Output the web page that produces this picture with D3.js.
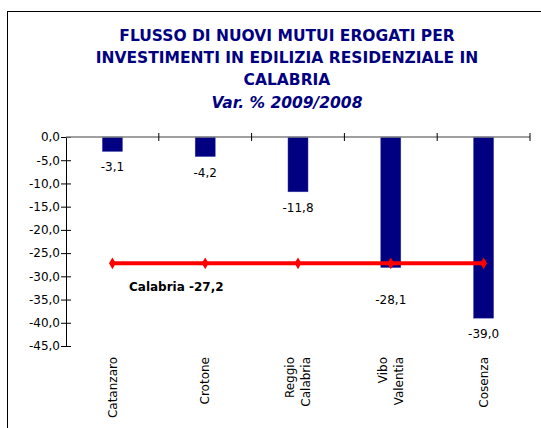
<!DOCTYPE html>
<html>
<head>
<meta charset="utf-8">
<script src="https://cdn.jsdelivr.net/npm/d3@7"></script>
<style>
  body { margin: 0; background: #fff; }
  svg { display: block; font-family: "DejaVu Sans", Verdana, sans-serif; }
</style>
</head>
<body>
<svg></svg>
<script>
// chart data
var provinces = ["Catanzaro", "Crotone", "Reggio Calabria", "Vibo Valentia", "Cosenza"];
var provinceLines = [["Catanzaro"], ["Crotone"], ["Reggio", "Calabria"], ["Vibo", "Valentia"], ["Cosenza"]];
var variation = [-3.1, -4.2, -11.8, -28.1, -39.0];
var regionAvg = -27.2;
var yTicks = [0, -5, -10, -15, -20, -25, -30, -35, -40, -45];
var titleLines = ["FLUSSO DI NUOVI MUTUI EROGATI PER", "INVESTIMENTI IN EDILIZIA RESIDENZIALE IN", "CALABRIA"];
var subtitle = "Var. % 2009/2008";

var width = 541;
var height = 428;
var plotLeft = 66, plotRight = 530, plotTop = 137, plotBottom = 346;
var navy = "#000080";

// italian style numbers: comma decimal, plain hyphen minus
var fmt = d3.formatLocale({decimal: ",", thousands: ".", grouping: [3], currency: ["", "€"], minus: "-"}).format(".1f");

var svg = d3.select("svg")
	.attr("width", width)
	.attr("height", height);

// outer frame
svg.append("rect")
	.attr("x", 7.5)
	.attr("y", 11.5)
	.attr("width", 560)
	.attr("height", 460)
	.attr("fill", "none")
	.attr("stroke", "#000")
	.attr("stroke-width", 1);

var Xscale = d3.scaleBand()
				.domain(provinces)
				.range([plotLeft, plotRight]);

var Yscale = d3.scaleLinear()
				.domain([-45, 0])
				.range([plotBottom, plotTop]);

// title
var title = svg.append("g").attr("fill", navy).attr("text-anchor", "middle");
titleLines.forEach(function(t, i) {
	title.append("text")
		.attr("x", 287)
		.attr("y", 41 + i * 22)
		.attr("font-size", "15.5px")
		.attr("font-weight", "bold")
		.text(t);
});
title.append("text")
	.attr("x", 287)
	.attr("y", 108)
	.attr("font-size", "15.5px")
	.attr("font-weight", "bold")
	.attr("font-style", "italic")
	.text(subtitle);

// bars
svg.selectAll("rect.bar")
	.data(variation)
	.enter()
	.append("rect")
		.attr("class", "bar")
		.attr("x", (d, i) => Xscale(provinces[i]) + Xscale.bandwidth() / 2 - 10)
		.attr("y", Yscale(0))
		.attr("width", 20)
		.attr("height", d => Yscale(d) - Yscale(0))
		.attr("fill", navy)
		.attr("stroke", "#3a3aa8")
		.attr("stroke-width", 0.5);

// y axis
var yAxis = d3.axisLeft(Yscale)
				.tickValues(yTicks)
				.tickFormat(fmt)
				.tickSize(5)
				.tickSizeOuter(0);

var yg = svg.append("g")
	.attr("transform", "translate(" + plotLeft + ",0)")
	.call(yAxis);
yg.select(".domain").attr("stroke", "#000");
yg.selectAll(".tick line").attr("x1", -5).attr("x2", 5).attr("stroke", "#000");
yg.selectAll(".tick text").attr("x", -6).attr("font-size", "12px").attr("font-family", "DejaVu Sans").attr("fill", "#000");

// x axis at zero with category ticks
var xg = svg.append("g");
xg.append("line")
	.attr("x1", plotLeft).attr("x2", plotRight)
	.attr("y1", Yscale(0)).attr("y2", Yscale(0))
	.attr("stroke", "#808080")
	.attr("stroke-width", 1.5);
xg.selectAll("line.ctick")
	.data(provinces)
	.enter()
	.append("line")
		.attr("class", "ctick")
		.attr("x1", d => Xscale(d) + Xscale.step())
		.attr("x2", d => Xscale(d) + Xscale.step())
		.attr("y1", Yscale(0) - 4)
		.attr("y2", Yscale(0) + 4)
		.attr("stroke", "#000");

// bar value labels
var avgY = Yscale(regionAvg);
svg.selectAll("text.val")
	.data(variation)
	.enter()
	.append("text")
		.attr("class", "val")
		.attr("x", (d, i) => Xscale(provinces[i]) + Xscale.bandwidth() / 2)
		.attr("y", function(d) {
			var y = Yscale(d) + 20;
			if (Math.abs(y - avgY) < 30) y = avgY + 41;
			return y;
		})
		.attr("text-anchor", "middle")
		.attr("font-size", "12px")
		.text(fmt);

// regional average line
var line = d3.line()
	.x(d => Xscale(d) + Xscale.bandwidth() / 2)
	.y(avgY);

svg.append("path")
	.datum(provinces)
	.attr("d", line)
	.attr("fill", "none")
	.attr("stroke", "#ff0000")
	.attr("stroke-width", 4);

svg.selectAll("path.marker")
	.data(provinces)
	.enter()
	.append("path")
		.attr("class", "marker")
		.attr("d", d3.symbol().type(d3.symbolDiamond).size(40))
		.attr("transform", d => "translate(" + (Xscale(d) + Xscale.bandwidth() / 2) + "," + avgY + ")")
		.attr("fill", "#ff0000");

svg.append("text")
	.attr("x", 129)
	.attr("y", avgY + 28)
	.attr("font-size", "12px")
	.attr("font-weight", "bold")
	.text("Calabria " + fmt(regionAvg));

// category labels, rotated
var cats = svg.selectAll("g.cat")
	.data(provinceLines)
	.enter()
	.append("g")
		.attr("class", "cat")
		.attr("transform", (d, i) => "translate(" + (Xscale(provinces[i]) + Xscale.bandwidth() / 2) + ",357) rotate(-90)");

cats.each(function(lines) {
	var g = d3.select(this);
	var n = lines.length;
	lines.forEach(function(t, j) {
		g.append("text")
			.attr("x", 0)
			.attr("y", (j - (n - 1) / 2) * 16)
			.attr("dy", "0.35em")
			.attr("text-anchor", "end")
			.attr("font-size", "12px")
			.text(t);
	});
});
</script>
</body>
</html>
